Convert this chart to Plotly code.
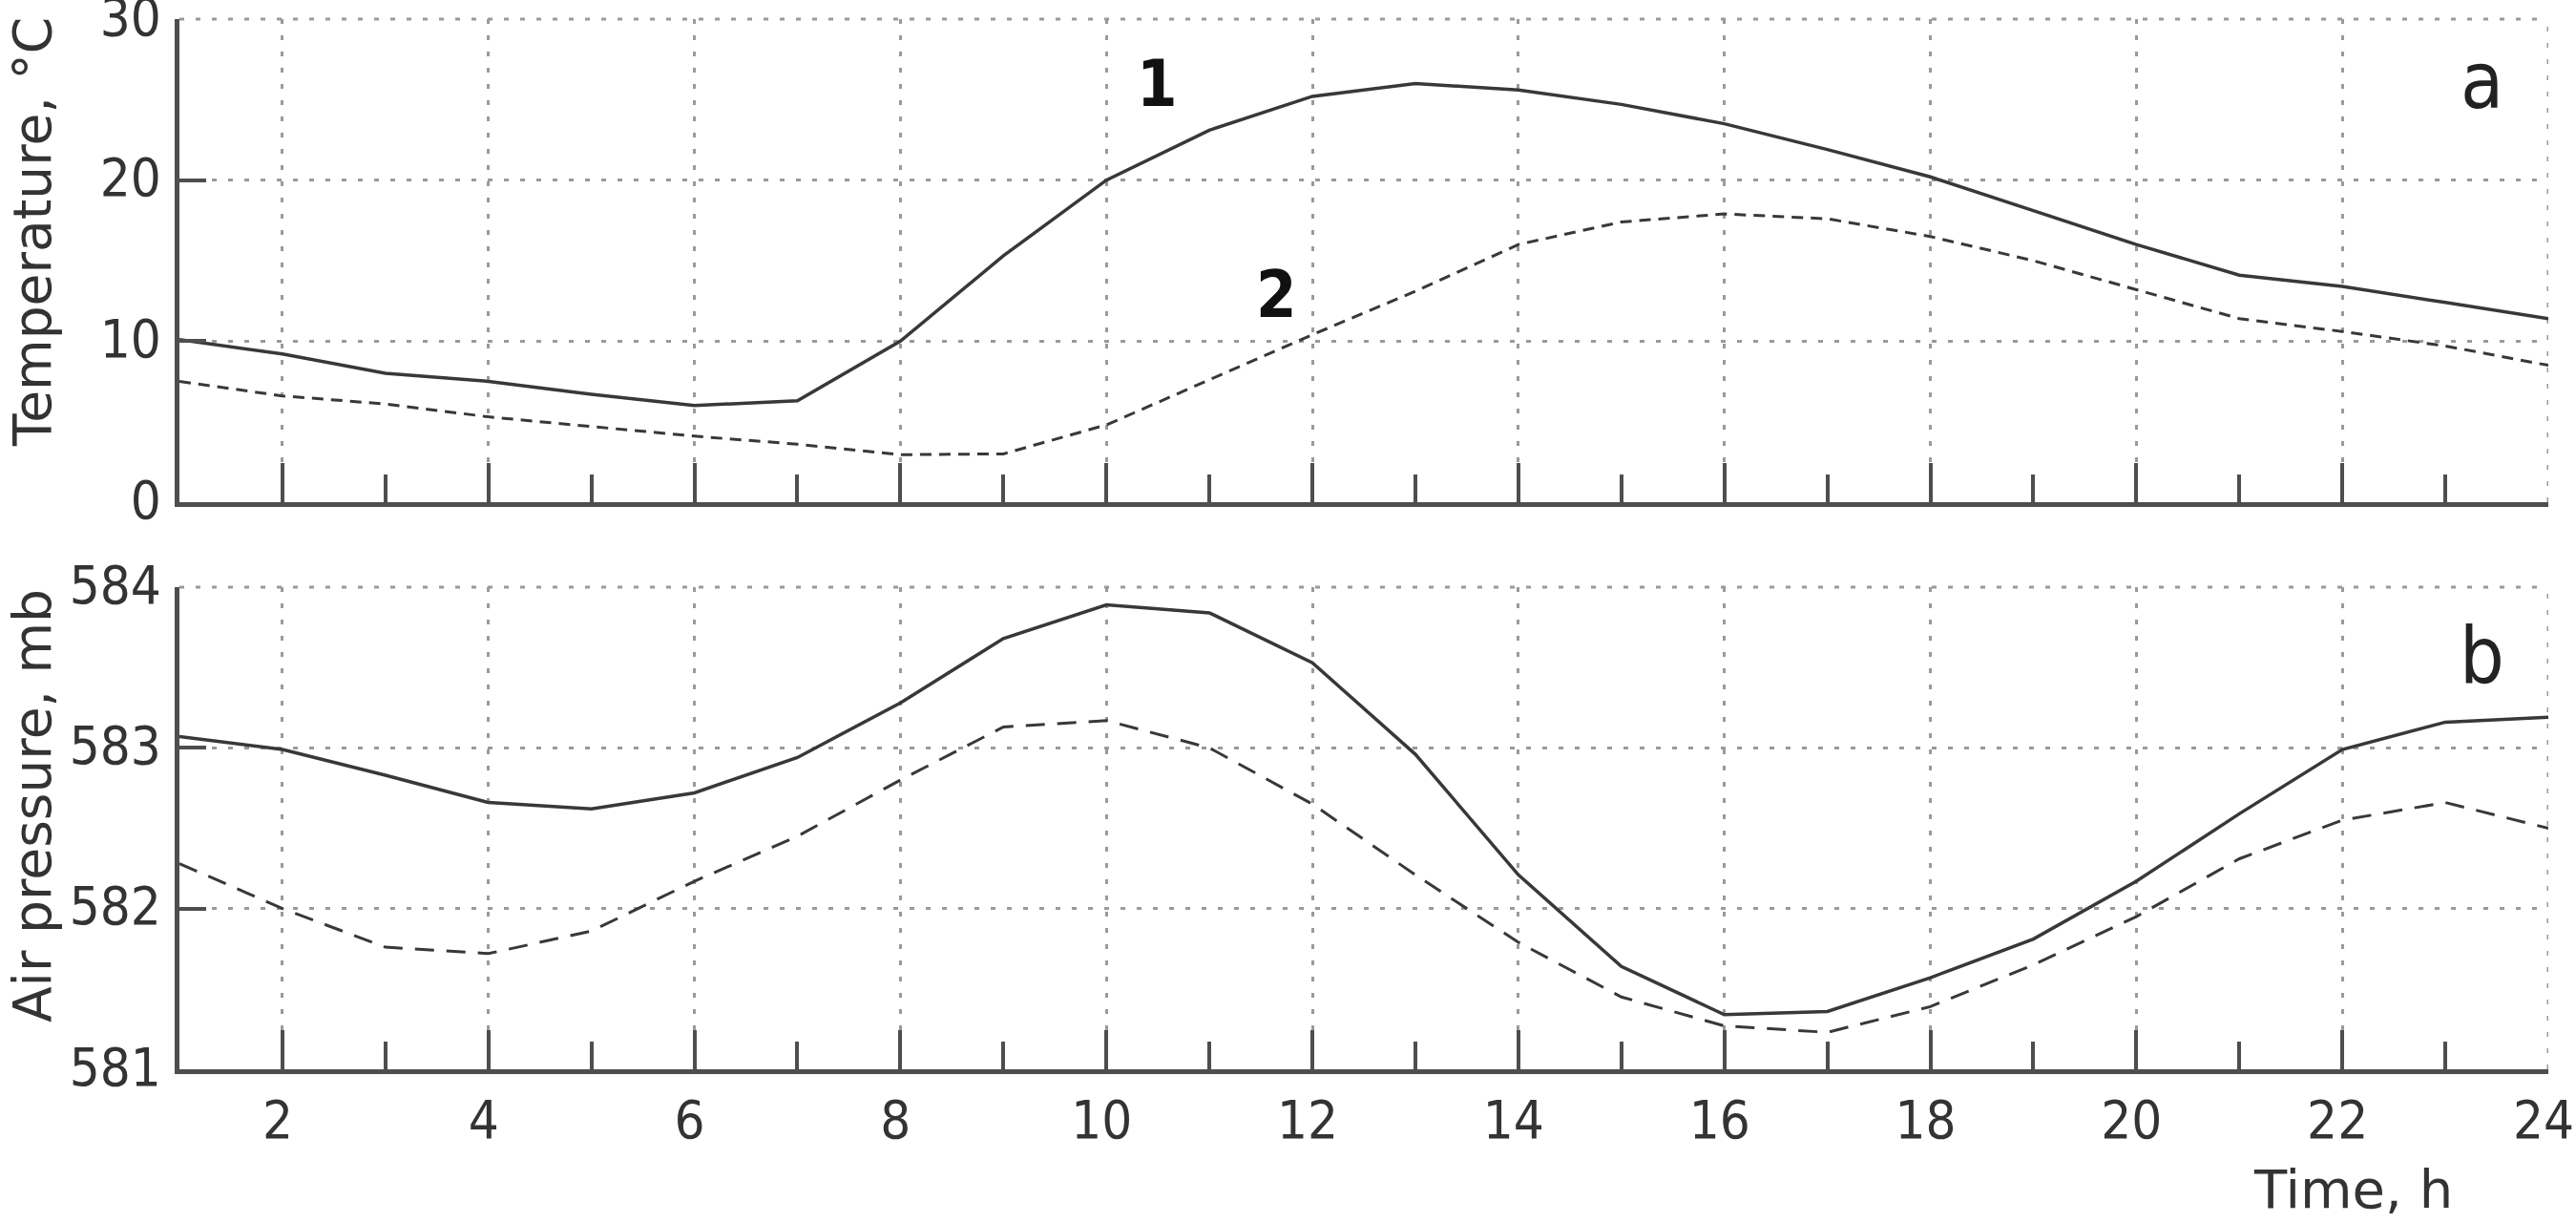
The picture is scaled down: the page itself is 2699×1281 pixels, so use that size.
import plotly.graph_objects as go

# hourly readings
hours = list(range(1, 25))
temp_1 = [10.1, 9.2, 8.0, 7.5, 6.7, 6.0, 6.3, 10.0, 15.3, 20.0, 23.1, 25.2,
          26.0, 25.6, 24.7, 23.5, 21.9, 20.2, 18.1, 16.0, 14.1, 13.4, 12.4, 11.4]
temp_2 = [7.5, 6.6, 6.1, 5.3, 4.7, 4.1, 3.6, 2.95, 3.0, 4.8, 7.6, 10.4,
          13.1, 16.0, 17.4, 17.9, 17.6, 16.5, 15.0, 13.2, 11.4, 10.6, 9.7, 8.5]
pres_1 = [583.07, 582.99, 582.83, 582.66, 582.62, 582.72, 582.94, 583.28, 583.68, 583.89, 583.84, 583.53,
          582.96, 582.21, 581.64, 581.34, 581.36, 581.57, 581.81, 582.17, 582.59, 582.99, 583.16, 583.19]
pres_2 = [582.28, 582.0, 581.76, 581.72, 581.86, 582.17, 582.45, 582.80, 583.13, 583.17, 583.0, 582.65,
          582.21, 581.79, 581.45, 581.27, 581.23, 581.39, 581.65, 581.95, 582.31, 582.55, 582.66, 582.50]

x_ticks = list(range(2, 25, 2))
temp_ticks = [0, 10, 20, 30]
pres_ticks = [581, 582, 583, 584]
x_range = [1, 24]
temp_range = [0, 30]
pres_range = [581, 584]

W, H = 2699, 1281
PL, PR, PT, PB = 188, 2670, 20, 1120      # plot area in pixels
TICKF = "DejaVu Sans Condensed, DejaVu Sans, sans-serif"
TITLEF = "DejaVu Sans, Verdana, sans-serif"
LINE = "#383838"
AXC = "#4e4e4e"
GRID = "#9a9a9a"
GDASH = "5px,12px"


def px(x):  # pixel -> paper x
    return (x - PL) / (PR - PL)


def py(y):  # pixel -> paper y
    return (PB - y) / (PB - PT)


fig = go.Figure()
fig.add_trace(go.Scatter(x=hours, y=temp_1, mode="lines", xaxis="x", yaxis="y",
                         line=dict(color=LINE, width=3.5)))
fig.add_trace(go.Scatter(x=hours, y=temp_2, mode="lines", xaxis="x", yaxis="y",
                         line=dict(color=LINE, width=3, dash="12px,8px")))
fig.add_trace(go.Scatter(x=hours, y=pres_1, mode="lines", xaxis="x2", yaxis="y2",
                         line=dict(color=LINE, width=3.5)))
fig.add_trace(go.Scatter(x=hours, y=pres_2, mode="lines", xaxis="x2", yaxis="y2",
                         line=dict(color=LINE, width=3, dash="20px,13px")))

xa = dict(range=x_range, tickvals=x_ticks, ticks="inside", ticklen=41, tickwidth=4, tickcolor=AXC,
          showgrid=True, gridcolor=GRID, gridwidth=3, griddash=GDASH, automargin=False,
          showline=True, linecolor=AXC, linewidth=5, zeroline=False,
          ticklabeloverflow="allow", ticklabelshift=-5,
          minor=dict(ticks="inside", ticklen=29, tickwidth=4, tickcolor=AXC, dtick=1, tick0=1, showgrid=False),
          tickfont=dict(size=56, color="#333", family=TICKF))
ya = dict(ticks="inside", ticklen=28, tickwidth=4, tickcolor=AXC, automargin=False,
          showgrid=True, gridcolor=GRID, gridwidth=3, griddash=GDASH,
          showline=True, linecolor=AXC, linewidth=5, zeroline=False,
          ticklabelstandoff=3, ticklabelshift=-3, ticklabeloverflow="allow",
          tickfont=dict(size=56, color="#333", family=TICKF))

fig.update_layout(
    width=W, height=H, paper_bgcolor="white", plot_bgcolor="white", showlegend=False,
    margin=dict(l=PL, r=W - PR, t=PT, b=H - PB, autoexpand=False),
    font=dict(family=TICKF, color="#333"),
    xaxis=dict(xa, anchor="y", domain=[0, 1], showticklabels=False),
    yaxis=dict(ya, anchor="x", domain=[py(526), 1], range=temp_range, tickvals=temp_ticks),
    xaxis2=dict(xa, anchor="y2", domain=[0, 1], ticklabelstandoff=0),
    yaxis2=dict(ya, anchor="x2", domain=[0, py(615)], range=pres_range, tickvals=pres_ticks),
)

# plotly leaves out the grid lines that sit on the plot edges; draw those
for xr, yr in (("x", "y"), ("x2", "y2")):
    grid = dict(color=GRID, width=3, dash=GDASH)
    fig.add_shape(type="line", xref=xr, yref=yr + " domain", x0=x_range[1], x1=x_range[1], y0=0, y1=1,
                  line=grid, layer="below")
    fig.add_shape(type="line", xref=xr + " domain", yref=yr + " domain", x0=0, x1=1, y0=1, y1=1,
                  line=grid, layer="below")

notes = [
    ("Temperature, °C", 34, 243, 55, -90, "normal", "#333"),
    ("Air pressure, mb", 34, 844, 55, -90, "normal", "#333"),
    ("Time, h", 2465, 1245, 56, 0, "normal", "#333"),
    ("a", 2600, 85, 82, 0, "normal", "#222"),
    ("b", 2600, 686, 82, 0, "normal", "#222"),
    ("1", 1212, 88, 68, 0, "bold", "#111"),
    ("2", 1337, 308, 68, 0, "bold", "#111"),
]
for text, x, y, size, ang, weight, col in notes:
    fig.add_annotation(text=text, x=px(x), y=py(y), xref="paper", yref="paper",
                       xanchor="center", yanchor="middle", showarrow=False, textangle=ang,
                       font=dict(size=size, family=TITLEF if size < 60 else TICKF, color=col, weight=weight))

# drop the page's default body margin so the figure sits at the window corner
fig.write_html("out.html", config={"displayModeBar": False},
               post_script="document.body.style.margin = '0';")
